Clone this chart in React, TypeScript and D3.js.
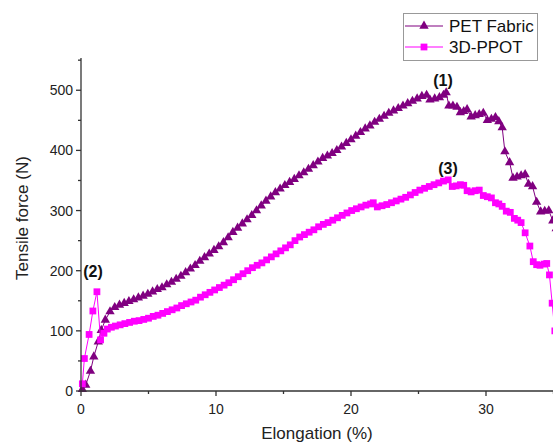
import React from "react";
import * as d3 from "d3";

// elongation (%) / tensile force (N)
const petX = [0.1, 0.35, 0.7, 0.95, 1.28, 1.5, 1.8, 2.15, 2.5, 2.85, 3.2, 3.55, 3.9, 4.25, 4.6, 4.95, 5.3, 5.65, 6.0, 6.35, 6.7, 7.05, 7.4, 7.75, 8.1, 8.45, 8.8, 9.15, 9.5, 9.85, 10.2, 10.55, 10.9, 11.25, 11.6, 11.95, 12.3, 12.65, 13.0, 13.35, 13.7, 14.05, 14.4, 14.75, 15.1, 15.45, 15.8, 16.15, 16.5, 16.85, 17.2, 17.55, 17.9, 18.25, 18.6, 18.95, 19.3, 19.65, 20.0, 20.35, 20.7, 21.05, 21.4, 21.75, 22.1, 22.45, 22.8, 23.15, 23.5, 23.85, 24.2, 24.55, 24.9, 25.25, 25.6, 25.85, 26.2, 26.55, 26.85, 27.05, 27.25, 27.55, 27.85, 28.1, 28.35, 28.6, 28.9, 29.2, 29.5, 29.8, 30.1, 30.4, 30.7, 30.95, 31.2, 31.4, 31.75, 32.0, 32.3, 32.6, 32.9, 33.15, 33.45, 33.75, 34.05, 34.35, 34.65, 34.95, 35.2];
const petY = [3, 10, 33, 57, 82, 101, 118, 132, 139, 143, 146, 149, 152, 155, 158, 161, 165, 169, 172, 177, 181, 186, 191, 197, 203, 209, 216, 222, 228, 234, 240, 247, 255, 264, 271, 278, 285, 292, 300, 308, 316, 323, 330, 336, 342, 347, 352, 358, 363, 369, 375, 381, 387, 391, 395, 400, 406, 412, 418, 424, 430, 436, 441, 447, 452, 457, 462, 466, 470, 474, 478, 482, 486, 490, 492, 484, 486, 488, 492, 496, 474, 474, 472, 463, 465, 468, 456, 458, 460, 462, 450, 452, 455, 448, 438, 398, 380, 354, 356, 358, 360, 344, 340, 314, 298, 299, 300, 283, 270];

const ppotX = [0.1, 0.25, 0.6, 0.88, 1.18, 1.45, 1.7, 1.95, 2.25, 2.55, 2.9, 3.25, 3.6, 3.95, 4.3, 4.65, 5.0, 5.35, 5.7, 6.05, 6.4, 6.75, 7.1, 7.45, 7.8, 8.15, 8.5, 8.85, 9.2, 9.55, 9.9, 10.25, 10.6, 10.95, 11.3, 11.65, 12.0, 12.35, 12.7, 13.05, 13.4, 13.75, 14.1, 14.45, 14.8, 15.15, 15.5, 15.85, 16.2, 16.55, 16.9, 17.25, 17.6, 17.95, 18.3, 18.65, 19.0, 19.35, 19.7, 20.05, 20.4, 20.75, 21.1, 21.45, 21.65, 21.95, 22.3, 22.65, 23.0, 23.35, 23.7, 24.05, 24.4, 24.75, 25.1, 25.45, 25.8, 26.15, 26.5, 26.85, 27.2, 27.5, 27.8, 28.1, 28.35, 28.6, 28.9, 29.2, 29.5, 29.8, 30.1, 30.4, 30.7, 30.95, 31.2, 31.5, 31.8, 32.1, 32.35, 32.6, 32.9, 33.25, 33.5, 33.75, 34.0, 34.3, 34.5, 34.7, 34.9, 35.1];
const ppotY = [12, 54, 94, 133, 165, 85, 96, 103, 106, 108, 110, 112, 114, 116, 117, 119, 121, 124, 126, 129, 132, 135, 138, 142, 145, 148, 151, 156, 160, 164, 168, 172, 176, 180, 185, 190, 195, 200, 205, 209, 213, 218, 223, 228, 233, 238, 243, 250, 256, 260, 264, 268, 273, 277, 280, 284, 288, 292, 296, 300, 303, 306, 309, 311, 313, 306, 308, 310, 313, 316, 319, 322, 326, 330, 334, 337, 340, 343, 346, 349, 351, 340, 341, 343, 342, 333, 331, 333, 334, 325, 323, 321, 313, 311, 307, 299, 297, 287, 284, 280, 263, 241, 215, 210, 209, 211, 212, 193, 146, 100];

const xTicks = [0, 10, 20, 30];
const xMinor = [5, 15, 25, 35];
const yTicks = [0, 100, 200, 300, 400, 500];
const yMinor = [50, 150, 250, 350, 450, 550];

const W = 553;
const H = 442;
const font = "'Liberation Sans', Arial, sans-serif";

const App = () => {
  const x = d3.scaleLinear().domain([0, 35.5]).range([81, 81 + 35.5 * 13.5]);
  const y = d3.scaleLinear().domain([0, 550]).range([391, 391 - 550 * 0.6015]);

  const pet = petX.map((v, i) => [v, petY[i]] as [number, number]);
  const ppot = ppotX.map((v, i) => [v, ppotY[i]] as [number, number]);

  const line = d3
    .line<[number, number]>()
    .x((d) => x(d[0]))
    .y((d) => y(d[1]));

  const tri = d3.symbol().type(d3.symbolTriangle).size(38)() as string;
  const sq = d3.symbol().type(d3.symbolSquare).size(46)() as string;

  const purple = "#800080";
  const magenta = "#ff00ff";

  return (
    <svg
      width={W}
      height={H}
      style={{ position: "absolute", left: 0, top: 0, background: "#fff" }}
    >
      <defs>
        <clipPath id="plot">
          <rect x={x(0) - 6} y={0} width={W} height={y(0) + 6} />
        </clipPath>
      </defs>

      <g clipPath="url(#plot)">
        <path d={line(pet) as string} fill="none" stroke={purple} strokeWidth={1} />
        {pet.map((d, i) => (
          <path key={"p" + i} d={tri} transform={`translate(${x(d[0])},${y(d[1])})`} fill={purple} />
        ))}
        <path d={line(ppot) as string} fill="none" stroke={magenta} strokeWidth={1} />
        {ppot.map((d, i) => (
          <path key={"q" + i} d={sq} transform={`translate(${x(d[0])},${y(d[1])})`} fill={magenta} />
        ))}
      </g>

      {/* axes */}
      <g stroke="#333" strokeWidth={1.3}>
        <line x1={x(0)} x2={W} y1={y(0)} y2={y(0)} />
        <line x1={x(0)} x2={x(0)} y1={y(0)} y2={58} />
        {xTicks.map((t) => (
          <line key={"xt" + t} x1={x(t)} x2={x(t)} y1={y(0)} y2={y(0) + 5} />
        ))}
        {xMinor.map((t) => (
          <line key={"xm" + t} x1={x(t)} x2={x(t)} y1={y(0)} y2={y(0) + 3} />
        ))}
        {yTicks.map((t) => (
          <line key={"yt" + t} x1={x(0) - 5} x2={x(0)} y1={y(t)} y2={y(t)} />
        ))}
        {yMinor.map((t) => (
          <line key={"ym" + t} x1={x(0) - 3} x2={x(0)} y1={y(t)} y2={y(t)} />
        ))}
      </g>

      <g fontFamily={font} fontSize={14} fill="#222">
        {xTicks.map((t) => (
          <text key={"xl" + t} x={x(t)} y={414} textAnchor="middle">
            {t}
          </text>
        ))}
        {yTicks.map((t) => (
          <text key={"yl" + t} x={73} y={y(t) + 5} textAnchor="end">
            {t}
          </text>
        ))}
      </g>

      <text x={317} y={439} fontFamily={font} fontSize={17} textAnchor="middle" fill="#222">
        Elongation (%)
      </text>
      <text
        transform="translate(28,218) rotate(-90)"
        fontFamily={font}
        fontSize={17}
        textAnchor="middle"
        fill="#222"
      >
        Tensile force (N)
      </text>

      <g fontFamily={font} fontSize={16} fontWeight="bold" textAnchor="middle" fill="#111">
        <text x={443} y={86}>(1)</text>
        <text x={93} y={277}>(2)</text>
        <text x={448} y={174}>(3)</text>
      </g>

      {/* legend */}
      <rect x={403.5} y={13.5} width={134} height={47} fill="#fff" stroke="#999" strokeWidth={1} />
      <line x1={405} x2={443} y1={26} y2={26} stroke={purple} strokeWidth={1.2} />
      <path d={tri} transform="translate(424,26)" fill={purple} />
      <line x1={405} x2={443} y1={47} y2={47} stroke={magenta} strokeWidth={1.2} />
      <path d={sq} transform="translate(424,47)" fill={magenta} />
      <g fontFamily={font} fontSize={17} fill="#111">
        <text x={449} y={32}>PET Fabric</text>
        <text x={449} y={53}>3D-PPOT</text>
      </g>
    </svg>
  );
};

export default App;
